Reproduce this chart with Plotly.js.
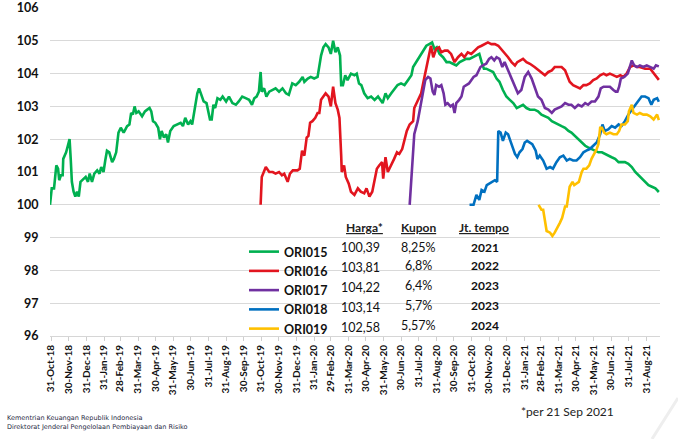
<!DOCTYPE html>
<html><head><meta charset="utf-8">
<script src="https://cdn.plot.ly/plotly-3.0.1.min.js"></script>
<style>html,body{margin:0;padding:0;background:#fff}#chart{width:678px;height:439px}</style>
</head><body><div id="chart"></div>
<script>
const seriesNames = ["ORI015","ORI016","ORI017","ORI018","ORI019"];
const seriesColors = ["#00b050","#e2151f","#7030a0","#0070c0","#ffc000"];
const hargaPer21Sep = [100.39,103.81,104.22,103.14,102.58];
const kupon = ["8,25%","6,8%","6,4%","5,7%","5,57%"];
const jatuhTempo = [2021,2022,2023,2023,2024];

const ori015Dates = ["2018-10-29","2018-11-01","2018-11-05","2018-11-09","2018-11-12","2018-11-14","2018-11-17","2018-11-20","2018-11-21","2018-11-26","2018-11-29","2018-12-02","2018-12-04","2018-12-06","2018-12-09","2018-12-12","2018-12-15","2018-12-18","2018-12-21","2018-12-26","2018-12-30","2019-01-03","2019-01-06","2019-01-10","2019-01-14","2019-01-19","2019-01-23","2019-01-26","2019-01-30","2019-02-02","2019-02-05","2019-02-09","2019-02-14","2019-02-17","2019-02-21","2019-02-25","2019-03-01","2019-03-06","2019-03-12","2019-03-16","2019-03-19","2019-03-22","2019-03-25","2019-03-28","2019-04-01","2019-04-07","2019-04-12","2019-04-16","2019-04-20","2019-04-23","2019-04-26","2019-04-30","2019-05-05","2019-05-08","2019-05-11","2019-05-15","2019-05-19","2019-05-22","2019-05-26","2019-06-01","2019-06-07","2019-06-13","2019-06-17","2019-06-21","2019-06-26","2019-06-30","2019-07-03","2019-07-08","2019-07-12","2019-07-15","2019-07-19","2019-07-23","2019-07-28","2019-07-31","2019-08-03","2019-08-06","2019-08-09","2019-08-12","2019-08-16","2019-08-21","2019-08-25","2019-08-31","2019-09-05","2019-09-11","2019-09-17","2019-09-22","2019-09-28","2019-10-04","2019-10-10","2019-10-15","2019-10-19","2019-10-23","2019-10-27","2019-10-30","2019-11-01","2019-11-05","2019-11-09","2019-11-14","2019-11-20","2019-11-25","2019-12-01","2019-12-07","2019-12-13","2019-12-18","2019-12-24","2019-12-30","2020-01-05","2020-01-11","2020-01-14","2020-01-20","2020-01-25","2020-01-31","2020-02-06","2020-02-09","2020-02-12","2020-02-16","2020-02-20","2020-02-25","2020-02-29","2020-03-04","2020-03-08","2020-03-12","2020-03-16","2020-03-18","2020-03-21","2020-03-25","2020-03-29","2020-04-04","2020-04-10","2020-04-14","2020-04-18","2020-04-22","2020-04-27","2020-05-03","2020-05-09","2020-05-15","2020-05-21","2020-05-25","2020-05-29","2020-06-03","2020-06-07","2020-06-13","2020-06-18","2020-06-24","2020-06-30","2020-07-06","2020-07-12","2020-07-18","2020-07-21","2020-07-26","2020-08-01","2020-08-07","2020-08-13","2020-08-18","2020-08-23","2020-08-27","2020-08-31","2020-09-05","2020-09-11","2020-09-17","2020-09-22","2020-09-28","2020-10-04","2020-10-10","2020-10-16","2020-10-21","2020-10-27","2020-11-02","2020-11-08","2020-11-13","2020-11-17","2020-11-21","2020-11-25","2020-12-01","2020-12-07","2020-12-13","2020-12-18","2020-12-24","2020-12-30","2021-01-05","2021-01-11","2021-01-17","2021-01-22","2021-01-28","2021-02-03","2021-02-09","2021-02-17","2021-02-23","2021-03-01","2021-03-07","2021-03-13","2021-03-19","2021-03-24","2021-03-30","2021-04-05","2021-04-11","2021-04-17","2021-04-22","2021-04-28","2021-05-04","2021-05-10","2021-05-16","2021-05-21","2021-05-27","2021-06-02","2021-06-08","2021-06-14","2021-06-19","2021-06-25","2021-07-01","2021-07-07","2021-07-13","2021-07-18","2021-07-24","2021-07-30","2021-08-05","2021-08-11","2021-08-17","2021-08-22","2021-08-28","2021-09-03","2021-09-09","2021-09-15","2021-09-21"];
const ori015Price = [100.0,100.5,100.5,101.2,101.1,100.75,100.9,100.9,101.4,101.6,101.8,102.0,101.4,100.7,100.4,100.25,100.4,100.25,100.7,100.8,100.85,100.7,100.95,100.7,100.95,101.05,100.95,101.15,101.0,101.35,101.65,101.6,101.3,101.4,101.6,102.2,102.35,102.2,102.4,102.45,102.8,102.75,103.0,102.8,102.85,102.7,102.85,102.9,102.95,102.85,102.55,102.5,102.35,102.0,102.25,102.05,102.15,101.9,102.25,102.4,102.45,102.5,102.4,102.65,102.45,102.55,102.45,103.0,103.4,103.55,103.35,103.15,103.1,102.85,102.6,102.6,103.05,102.95,103.25,103.2,103.3,103.15,103.3,103.1,103.05,103.15,103.3,103.25,103.2,103.05,103.25,103.3,103.45,104.05,103.45,103.55,103.3,103.45,103.5,103.55,103.45,103.55,103.4,103.35,103.7,103.65,103.75,103.9,103.75,103.85,103.9,103.85,103.9,104.25,104.55,104.8,104.9,104.8,104.6,105.0,104.65,104.8,104.55,103.65,103.65,103.95,103.8,104.0,103.95,104.0,103.7,103.65,103.4,103.25,103.3,103.2,103.3,103.2,103.1,103.4,103.25,103.4,103.5,103.65,103.7,103.65,103.8,103.95,104.2,104.35,104.5,104.7,104.85,104.9,104.95,104.75,104.8,104.6,104.5,104.35,104.35,104.3,104.25,104.35,104.4,104.45,104.45,104.5,104.55,104.6,104.35,104.15,104.15,104.1,104.05,103.85,103.75,103.5,103.3,103.2,103.1,102.95,103.0,103.05,102.95,102.9,102.9,102.85,102.75,102.7,102.65,102.55,102.5,102.45,102.4,102.35,102.25,102.2,102.1,102.0,101.9,101.8,101.75,101.7,101.65,101.6,101.6,101.55,101.5,101.45,101.4,101.3,101.3,101.3,101.25,101.15,101.0,100.9,100.8,100.7,100.6,100.55,100.5,100.39];

const ori016Dates = ["2019-10-30","2019-11-01","2019-11-08","2019-11-14","2019-11-20","2019-11-25","2019-12-01","2019-12-06","2019-12-10","2019-12-16","2019-12-20","2019-12-25","2020-01-02","2020-01-06","2020-01-10","2020-01-14","2020-01-18","2020-01-21","2020-01-24","2020-01-28","2020-02-02","2020-02-06","2020-02-09","2020-02-12","2020-02-16","2020-02-20","2020-02-25","2020-02-29","2020-03-04","2020-03-08","2020-03-12","2020-03-15","2020-03-18","2020-03-19","2020-03-23","2020-03-26","2020-03-31","2020-04-04","2020-04-10","2020-04-16","2020-04-21","2020-04-27","2020-05-01","2020-05-06","2020-05-11","2020-05-15","2020-05-19","2020-05-23","2020-05-28","2020-05-30","2020-06-03","2020-06-07","2020-06-13","2020-06-18","2020-06-23","2020-06-27","2020-07-02","2020-07-06","2020-07-10","2020-07-15","2020-07-21","2020-07-23","2020-07-29","2020-08-04","2020-08-08","2020-08-13","2020-08-17","2020-08-21","2020-08-25","2020-08-30","2020-09-04","2020-09-08","2020-09-14","2020-09-19","2020-09-25","2020-10-01","2020-10-07","2020-10-13","2020-10-18","2020-10-24","2020-10-30","2020-11-05","2020-11-11","2020-11-17","2020-11-22","2020-11-28","2020-12-04","2020-12-10","2020-12-16","2020-12-21","2020-12-27","2021-01-02","2021-01-08","2021-01-14","2021-01-18","2021-01-23","2021-01-28","2021-02-03","2021-02-09","2021-02-17","2021-03-01","2021-03-07","2021-03-13","2021-03-19","2021-03-24","2021-03-30","2021-04-05","2021-04-11","2021-04-15","2021-04-19","2021-04-25","2021-05-01","2021-05-07","2021-05-13","2021-05-18","2021-05-24","2021-05-30","2021-06-05","2021-06-11","2021-06-17","2021-06-22","2021-06-28","2021-07-04","2021-07-10","2021-07-16","2021-07-21","2021-07-27","2021-08-02","2021-08-08","2021-08-14","2021-08-19","2021-08-28","2021-09-06","2021-09-12","2021-09-16","2021-09-21"];
const ori016Price = [100.0,100.85,101.15,101.0,101.0,100.95,101.0,100.9,100.95,100.7,100.95,101.05,101.05,101.1,101.65,101.5,102.05,102.1,102.5,102.55,102.65,102.8,102.8,103.2,103.3,103.4,103.3,103.0,103.6,103.1,102.9,102.65,101.5,101.0,101.2,100.85,100.65,100.4,100.3,100.5,100.4,100.35,100.5,100.25,100.4,100.8,101.1,101.2,101.3,100.8,101.45,101.0,101.25,101.4,101.6,101.55,101.7,102.0,102.25,102.45,102.55,102.95,103.2,103.4,103.75,104.15,104.55,104.85,104.5,104.75,104.8,104.65,104.7,104.7,104.6,104.35,104.5,104.6,104.5,104.65,104.6,104.7,104.8,104.85,104.9,104.95,104.9,104.9,104.85,104.75,104.65,104.5,104.35,104.25,104.35,104.4,104.45,104.35,104.3,104.2,104.05,103.95,104.05,104.1,104.2,104.2,104.2,104.1,103.9,103.75,103.65,103.6,103.55,103.65,103.65,103.7,103.8,103.85,103.95,104.0,103.95,104.0,103.95,103.9,103.95,103.9,104.0,104.2,104.25,104.2,104.2,104.15,104.15,104.0,103.9,103.81];

const ori017Dates = ["2020-07-15","2020-07-18","2020-07-21","2020-07-23","2020-07-29","2020-08-02","2020-08-07","2020-08-11","2020-08-16","2020-08-20","2020-08-24","2020-08-27","2020-08-30","2020-09-04","2020-09-08","2020-09-12","2020-09-15","2020-09-19","2020-09-24","2020-09-28","2020-10-01","2020-10-04","2020-10-09","2020-10-13","2020-10-17","2020-10-21","2020-10-26","2020-10-30","2020-11-03","2020-11-08","2020-11-11","2020-11-15","2020-11-19","2020-11-25","2020-11-30","2020-12-04","2020-12-09","2020-12-13","2020-12-18","2020-12-23","2020-12-27","2021-01-02","2021-01-08","2021-01-14","2021-01-19","2021-01-25","2021-01-31","2021-02-06","2021-02-12","2021-02-17","2021-02-23","2021-03-01","2021-03-07","2021-03-13","2021-03-19","2021-03-24","2021-03-30","2021-04-05","2021-04-11","2021-04-17","2021-04-22","2021-04-28","2021-05-04","2021-05-10","2021-05-16","2021-05-21","2021-05-27","2021-06-02","2021-06-08","2021-06-12","2021-06-17","2021-06-22","2021-06-28","2021-07-04","2021-07-08","2021-07-11","2021-07-14","2021-07-17","2021-07-23","2021-07-29","2021-08-02","2021-08-05","2021-08-09","2021-08-14","2021-08-19","2021-08-25","2021-08-31","2021-09-06","2021-09-12","2021-09-16","2021-09-21"];
const ori017Price = [100.0,100.85,101.5,102.15,102.55,102.95,103.45,103.8,103.9,103.85,103.45,103.35,103.65,103.6,103.65,103.4,103.05,103.1,103.0,103.05,102.8,103.1,103.2,103.3,103.6,103.65,103.7,103.8,103.9,103.95,104.05,104.2,104.25,104.3,104.45,104.5,104.4,104.5,104.45,104.2,104.35,104.1,103.9,103.6,103.4,103.5,103.9,104.05,103.85,103.6,103.3,103.2,102.95,102.9,102.8,102.9,102.95,103.0,103.1,103.05,103.05,102.95,103.05,103.0,103.1,103.05,103.15,103.15,103.3,103.55,103.6,103.6,103.6,103.5,103.45,103.45,103.6,103.85,103.9,104.0,104.2,104.4,104.25,104.2,104.25,104.2,104.25,104.2,104.15,104.25,104.22];

const ori018Dates = ["2020-10-27","2020-11-03","2020-11-08","2020-11-13","2020-11-17","2020-11-22","2020-11-26","2020-12-01","2020-12-06","2020-12-10","2020-12-14","2020-12-16","2020-12-20","2020-12-24","2020-12-29","2021-01-02","2021-01-06","2021-01-10","2021-01-14","2021-01-18","2021-01-22","2021-01-27","2021-01-31","2021-02-04","2021-02-09","2021-02-13","2021-02-19","2021-02-22","2021-02-26","2021-03-04","2021-03-10","2021-03-16","2021-03-21","2021-03-27","2021-04-02","2021-04-08","2021-04-14","2021-04-19","2021-04-25","2021-05-01","2021-05-07","2021-05-13","2021-05-18","2021-05-24","2021-05-30","2021-06-05","2021-06-11","2021-06-15","2021-06-19","2021-06-25","2021-07-01","2021-07-07","2021-07-13","2021-07-18","2021-07-24","2021-07-30","2021-08-05","2021-08-11","2021-08-17","2021-08-22","2021-08-28","2021-09-03","2021-09-08","2021-09-12","2021-09-18","2021-09-21"];
const ori018Price = [100.0,100.0,100.3,100.15,100.45,100.4,100.6,100.65,100.7,100.75,100.7,102.25,102.2,101.95,102.2,102.15,101.95,101.75,101.55,101.45,101.6,101.7,101.9,101.95,101.9,101.85,101.65,101.4,101.5,101.35,101.1,101.15,101.1,101.3,101.45,101.5,101.35,101.4,101.35,101.35,101.45,101.6,101.65,101.7,101.8,101.9,102.15,102.45,102.25,102.3,102.4,102.35,102.45,102.4,102.55,102.75,102.9,103.05,103.2,103.3,103.3,103.25,103.05,103.2,103.25,103.14];

const ori019Dates = ["2021-02-24","2021-03-01","2021-03-04","2021-03-07","2021-03-10","2021-03-16","2021-03-20","2021-03-24","2021-03-29","2021-04-02","2021-04-06","2021-04-11","2021-04-14","2021-04-17","2021-04-19","2021-04-24","2021-04-27","2021-05-01","2021-05-05","2021-05-10","2021-05-13","2021-05-18","2021-05-23","2021-05-27","2021-06-01","2021-06-05","2021-06-08","2021-06-11","2021-06-14","2021-06-18","2021-06-22","2021-06-28","2021-07-04","2021-07-10","2021-07-14","2021-07-18","2021-07-24","2021-07-29","2021-07-31","2021-08-05","2021-08-08","2021-08-14","2021-08-19","2021-08-25","2021-08-31","2021-09-06","2021-09-12","2021-09-18","2021-09-21"];
const ori019Price = [100.0,99.85,99.85,99.45,99.2,99.15,99.05,99.15,99.3,99.45,99.6,99.95,99.95,100.35,100.55,100.7,100.6,100.65,100.7,101.0,101.1,101.1,101.2,101.4,101.55,101.7,101.85,102.35,102.35,102.2,102.15,102.2,102.15,102.15,102.25,102.45,102.45,102.55,102.85,103.05,102.8,102.75,102.8,102.75,102.75,102.7,102.6,102.75,102.58];

const monthEndTicks = ["2018-10-31","2018-11-30","2018-12-31","2019-01-31","2019-02-28","2019-03-31","2019-04-30","2019-05-31","2019-06-30","2019-07-31","2019-08-31","2019-09-30","2019-10-31","2019-11-30","2019-12-31","2020-01-31","2020-02-29","2020-03-31","2020-04-30","2020-05-31","2020-06-30","2020-07-31","2020-08-31","2020-09-30","2020-10-31","2020-11-30","2020-12-31","2021-01-31","2021-02-28","2021-03-31","2021-04-30","2021-05-31","2021-06-30","2021-07-31","2021-08-31"];

const allDates = [ori015Dates, ori016Dates, ori017Dates, ori018Dates, ori019Dates];
const allPrices = [ori015Price, ori016Price, ori017Price, ori018Price, ori019Price];

const W = 678, H = 439, L = 50, R = 18, T = 8, B = 103;
const pw = W - L - R, ph = H - T - B;
const px = v => (v - L) / pw;
const py = v => 1 - (v - T) / ph;

const traces = seriesNames.map((n, i) => ({
  type: 'scatter', mode: 'lines', name: n, legendgroup: n,
  x: allDates[i], y: allPrices[i],
  line: {color: seriesColors[i], width: 2.6},
  hoverinfo: 'x+y+name'
}));

const FONT = 'Lato, "DejaVu Sans", sans-serif';
const ann = [];
const headY = py(227);
[["Harga*", 364], ["Kupon", 418], ["Jt. tempo", 484]].forEach(h => {
  ann.push({xref:'paper', yref:'paper', x: px(h[1]), y: headY, xanchor:'center', yanchor:'middle',
    text: '<b><u>' + h[0] + '</u></b>', showarrow:false, font:{family:FONT, size:12, color:'#222'}});
});
seriesNames.forEach((n, i) => {
  const ry = py(247 + i * 20);
  ann.push({xref:'paper', yref:'paper', x: px(360), y: ry, xanchor:'center', yanchor:'middle', showarrow:false,
    text: hargaPer21Sep[i].toFixed(2).replace('.', ','), font:{family:FONT, size:12.5, color:'#111'}});
  ann.push({xref:'paper', yref:'paper', x: px(418), y: ry + (i ? 2/ph : 0), xanchor:'center', yanchor:'middle', showarrow:false,
    text: kupon[i], font:{family:FONT, size:12.5, color:'#111'}});
  ann.push({xref:'paper', yref:'paper', x: px(485), y: ry + (i ? 2/ph : 0), xanchor:'center', yanchor:'middle', showarrow:false,
    text: '<b>' + jatuhTempo[i] + '</b>', font:{family:FONT, size:12, color:'#111'}});
});
ann.push({xref:'paper', yref:'paper', x: px(519), y: py(411), xanchor:'left', yanchor:'middle', showarrow:false,
  text: '*per 21 Sep 2021', font:{family:FONT, size:12, color:'#222'}});
ann.push({xref:'paper', yref:'paper', x: px(5), y: py(418), xanchor:'left', yanchor:'middle', showarrow:false,
  text: 'Kementrian Keuangan Republik Indonesia', font:{family:'"DejaVu Sans", sans-serif', size:6.5, color:'#1f2a44'}});
ann.push({xref:'paper', yref:'paper', x: px(5), y: py(427), xanchor:'left', yanchor:'middle', showarrow:false,
  text: 'Direktorat Jenderal Pengelolaan Pembiayaan dan Risiko', font:{family:'"DejaVu Sans", sans-serif', size:6.5, color:'#1f2a44'}});

const layout = {
  width: W, height: H,
  margin: {l: L, r: R, t: T, b: B},
  paper_bgcolor: '#fff', plot_bgcolor: '#fff',
  showlegend: true,
  legend: {x: px(244), y: py(237), xanchor: 'left', yanchor: 'top', bgcolor: 'rgba(0,0,0,0)',
    font: {family: FONT, size: 12.5, color: '#111', weight: 'bold'}, tracegroupgap: 1, traceorder: 'normal'},
  xaxis: {
    type: 'date', range: ['2018-10-29', '2021-09-23'],
    tickvals: monthEndTicks, tickformat: '%d-%b-%y', tickangle: -90,
    tickfont: {family: FONT, size: 10, color: '#111', weight: 'bold'},
    ticks: 'outside', ticklen: 4, tickcolor: '#cfcfcf',
    showgrid: false, showline: true, linecolor: '#d6d6d6', linewidth: 1, zeroline: false
  },
  yaxis: {
    range: [96, 106], dtick: 1, tick0: 96,
    tickfont: {family: FONT, size: 12.5, color: '#111', weight: 'bold'},
    ticks: 'outside', ticklen: 8, tickcolor: 'rgba(0,0,0,0)',
    showgrid: true, gridcolor: '#d9d9d9', gridwidth: 1, zeroline: false, showline: false
  },
  annotations: ann,
  shapes: [{type:'line', xref:'paper', yref:'paper', x0: px(652), y0: py(439), x1: px(678), y1: py(398),
    line:{color:'#eeeeee', width:3}, layer:'below'}]
};

Plotly.newPlot('chart', traces, layout, {displayModeBar: false, staticPlot: true});
</script>
</body></html>
